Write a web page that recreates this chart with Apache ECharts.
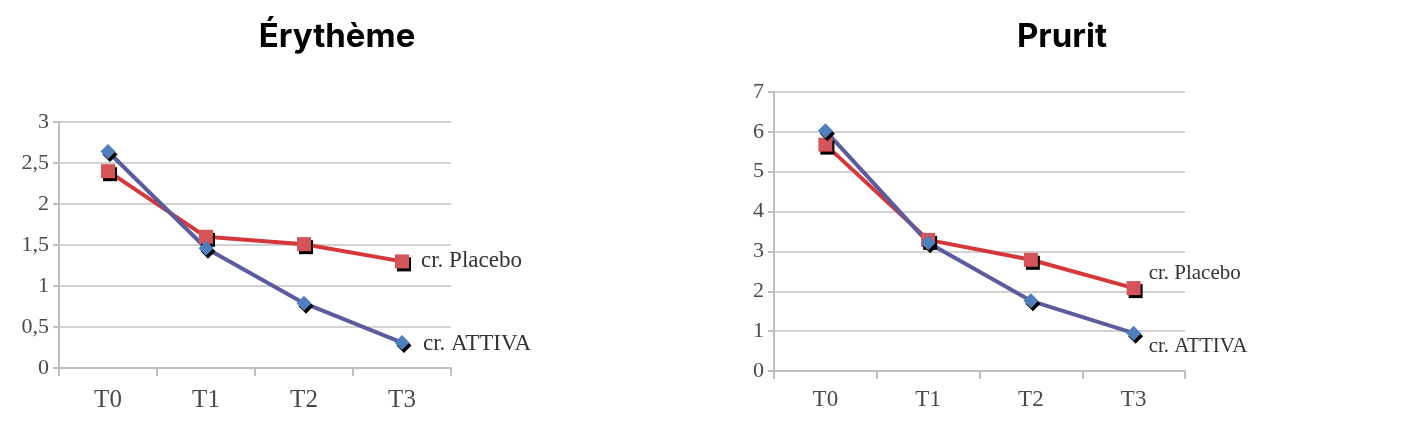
<!DOCTYPE html>
<html>
<head>
<meta charset="utf-8">
<script src="https://cdn.jsdelivr.net/npm/echarts@6/dist/echarts.min.js"></script>
<style>
  html, body { margin: 0; padding: 0; background: #fff; }
  #main { width: 1422px; height: 428px; }
</style>
</head>
<body>
<div id="main"></div>
<script>
// données
var temps = ['T0', 'T1', 'T2', 'T3'];
var titres = ['Érythème', 'Prurit'];
var erythemeAttiva = [2.64, 1.46, 0.79, 0.31];
var erythemePlacebo = [2.40, 1.60, 1.51, 1.30];
var pruritAttiva = [6.03, 3.22, 1.76, 0.95];
var pruritPlacebo = [5.68, 3.29, 2.79, 2.08];

var serif = 'Liberation Serif';
var grisTexte = '#4a4a4a';
var grisGrille = '#d2d2d2';

var myChart = echarts.init(document.getElementById('main'));

function xAxe(idx, taille, marge) {
    return {
        type: 'category',
        gridIndex: idx,
        data: temps,
        boundaryGap: true,
        axisLine: { lineStyle: { color: '#bfbfbf', width: 2 } },
        axisTick: { show: true, length: 8, lineStyle: { color: '#bfbfbf', width: 2 } },
        axisLabel: { color: grisTexte, fontFamily: serif, fontSize: taille, margin: marge }
    };
}

function yAxe(idx, max, pas) {
    return {
        type: 'value',
        gridIndex: idx,
        min: 0,
        max: max,
        interval: pas,
        axisLine: { show: true, lineStyle: { color: '#bfbfbf', width: 2 } },
        axisTick: { show: true, length: 6, lineStyle: { color: '#bfbfbf', width: 2 } },
        splitLine: { lineStyle: { color: grisGrille, width: 2 } },
        axisLabel: {
            color: grisTexte, fontFamily: serif, fontSize: 22, margin: 10,
            formatter: function (v) { return String(v).replace('.', ','); }
        }
    };
}

function serie(nom, idx, donnees, couleurLigne, couleurPoint, symbole, taille, decalage, police) {
    return {
        name: nom,
        type: 'line',
        xAxisIndex: idx,
        yAxisIndex: idx,
        data: donnees,
        symbol: symbole,
        symbolSize: taille,
        lineStyle: { color: couleurLigne, width: 4 },
        itemStyle: {
            color: couleurPoint,
            shadowColor: '#000',
            shadowOffsetX: 2,
            shadowOffsetY: 3,
            shadowBlur: 0
        },
        endLabel: {
            show: true,
            formatter: '{a}',
            offset: decalage,
            color: '#333',
            fontFamily: serif,
            fontSize: police
        },
        animation: false
    };
}

option = {
    backgroundColor: '#fff',
    title: [
        {
            text: titres[0],
            left: 332,
            top: 16,
            textAlign: 'center',
            textStyle: { fontFamily: 'Inter', fontWeight: 'bold', fontSize: 33, color: '#000' }
        },
        {
            text: titres[1],
            left: 1057,
            top: 16,
            textAlign: 'center',
            textStyle: { fontFamily: 'Inter', fontWeight: 'bold', fontSize: 33, color: '#000' }
        }
    ],
    grid: [
        { left: 59, top: 122, width: 392, height: 246 },
        { left: 774, top: 92, width: 411, height: 279 }
    ],
    xAxis: [xAxe(0, 25, 20), xAxe(1, 23, 17)],
    yAxis: [yAxe(0, 3, 0.5), yAxe(1, 7, 1)],
    series: [
        serie('cr. Placebo', 0, erythemePlacebo, '#d6383a', '#d4545a', 'rect', 14, [11, 0], 23),
        serie('cr. ATTIVA', 0, erythemeAttiva, '#5a5c9e', '#4f7fbd', 'diamond', 15, [13, 1], 23),
        serie('cr. Placebo', 1, pruritPlacebo, '#d6383a', '#d4545a', 'rect', 14, [7, -15], 21),
        serie('cr. ATTIVA', 1, pruritAttiva, '#5a5c9e', '#4f7fbd', 'diamond', 15, [7, 13], 21)
    ]
};

myChart.setOption(option);
</script>
</body>
</html>
